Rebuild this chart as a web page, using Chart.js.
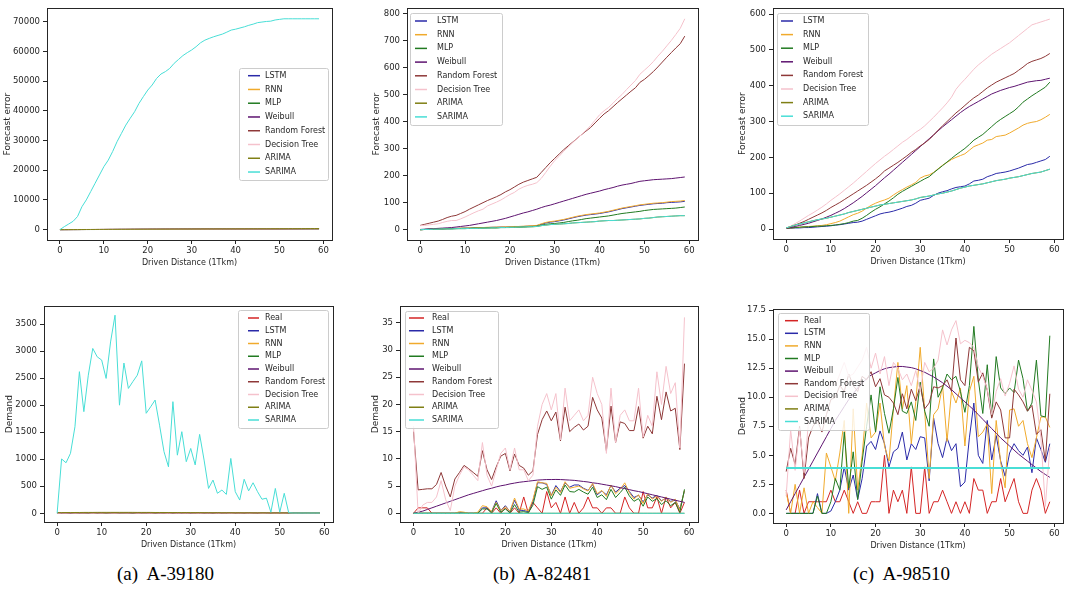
<!DOCTYPE html>
<html>
<head>
<meta charset="utf-8">
<script src="https://cdn.jsdelivr.net/npm/chart.js@4.4.0/dist/chart.umd.min.js"></script>
<style>
  body { margin: 0; background: #fff; width: 1074px; height: 598px; position: relative; overflow: hidden; }
  canvas { position: absolute; }
  .cap { position: absolute; top: 564px; font-family: "Liberation Serif", serif; font-size: 19px; line-height: 19px; color: #000; white-space: pre; }
</style>
</head>
<body>
<div class="cap" style="left:117px">(a)  A-39180</div>
<div class="cap" style="left:493px">(b)  A-82481</div>
<div class="cap" style="left:853px">(c)  A-98510</div>
<script>
// x values (driven distance, 1Tkm)
const distance = [0,1,2,3,4,5,6,7,8,9,10,11,12,13,14,15,16,17,18,19,20,21,22,23,24,25,26,27,28,29,
  30,31,32,33,34,35,36,37,38,39,40,41,42,43,44,45,46,47,48,49,50,51,52,53,54,55,56,57,58,59];
const xTicks = [0, 10, 20, 30, 40, 50, 60];

// ---------- (a) A-39180 forecast error ----------
const errA_LSTM = [0,3,7,12,15,21,26,30,37,42, 46,53,58,63,69,73,80,85,89,96, 102,106,112,119,123,129,135,140,146,151,
  157,163,167,174,179,184,190,196,201,207, 213,217,223,229,234,240,245,250,256,262, 266,272,278,283,289,294,299,305,311,316];
const errA_RNN = [0,4,9,13,19,24,28,35,40,44, 51,57,61,67,73,78,84,90,94,101, 107,111,118,124,129,135,141,146,152,158,
  163,169,175,180,186,192,197,203,209,214, 220,226,231,237,243,248,254,260,265,271, 277,282,288,294,299,305,311,316,322,328];
const errA_MLP = [0,3,6,10,14,17,22,26,29,34, 38,41,46,50,53,58,62,66,70,74, 78,82,86,90,94,98,103,106,111,115,
  118,123,127,130,135,139,143,147,151,155, 159,163,167,171,175,179,183,187,191,195, 199,203,207,211,215,219,223,227,231,235];
const errA_Weibull = [0,5,10,16,21,27,33,39,45,51, 57,63,69,76,82,88,94,100,106,112, 118,124,130,136,142,148,154,160,166,172,
  178,184,190,196,201,207,213,219,225,230, 236,242,247,253,259,264,270,275,281,286, 292,297,303,308,314,319,325,330,336,341];
const errA_RF = [0,4,9,13,17,23,26,31,36,40, 44,50,54,58,64,68,72,78,82,86, 92,96,100,106,110,114,120,124,128,134,
  138,142,148,152,156,162,166,170,176,180, 184,190,194,198,204,208,212,218,222,226, 232,236,240,246,250,254,260,264,268,274];
const errA_DT = [0,5,9,14,19,24,29,33,38,43, 48,53,57,62,67,72,77,81,86,91, 96,100,105,110,115,119,124,129,134,138,
  143,148,152,157,162,167,171,176,181,186, 190,195,200,204,209,214,218,223,228,233, 237,242,247,251,256,261,265,270,275,280];
const errA_ARIMA = [0,6,12,18,25,31,37,44,50,56, 63,69,75,82,88,94,101,107,113,119, 126,132,138,145,151,157,163,170,176,182,
  188,195,201,207,213,219,226,232,238,244, 250,256,263,269,275,281,287,293,299,305, 311,317,323,329,335,341,347,353,359,365];
const errA_SARIMA = [0,1000,1900,2800,4400,7700,10000,12800,15600,18400, 21200,23400,26300,29600,32400,35200,37500,39700,42500,44800,
  47000,48700,50900,52400,53200,54300,56000,57300,58600,59600, 60500,61600,62900,63800,64400,64950,65400,65850,66500,67200,
  67500,67900,68300,68800,69200,69700,69900,70100,70200,70600, 70800,71000,71000,71000,71000,71000,71000,71000,71000,71000];
const yTicksA1 = [0,10000,20000,30000,40000,50000,60000,70000];

// ---------- (b) A-82481 forecast error ----------
const errB_LSTM = [0,1,2,2,3,3,4,4,5,5, 6,6,7,7,8,8,9,9,10,10, 11,11,12,12,13,14,15,20,25,28,
  30,33,36,40,44,48,51,54,56,58, 60,63,66,70,74,78,81,84,87,90, 92,94,96,97,98,100,101,102,103,105];
const errB_RNN = [0,1,2,3,3,4,4,5,5,6, 6,7,7,8,8,9,9,10,10,11, 11,12,12,13,14,15,16,22,27,30,
  32,35,38,42,46,50,53,56,58,60, 62,65,68,72,76,80,83,86,89,92, 94,96,98,99,100,102,104,105,106,108];
const errB_MLP = [0,1,2,2,3,3,4,4,4,5, 5,5,6,6,6,7,7,7,8,8, 8,9,9,10,11,12,13,17,20,22,
  23,25,27,30,33,35,38,41,43,45, 47,49,51,54,57,60,62,64,66,68, 71,73,75,76,77,78,79,80,82,84];
const errB_Weibull = [1,2,3,4,5,6,7,8,10,12, 14,16,19,22,25,28,31,34,38,42, 47,52,57,62,66,71,76,82,87,91,
  96,101,106,111,116,121,126,131,135,139, 143,148,152,156,161,165,168,171,175,179, 181,183,185,186,187,188,189,191,193,195];
const errB_RF = [16,20,24,28,32,38,45,50,53,60, 67,76,84,92,100,108,115,122,130,140, 148,158,168,176,182,188,194,212,230,248,
  264,280,296,310,324,338,352,365,378,395, 412,428,440,455,470,484,498,512,525,545, 556,570,585,602,620,638,655,672,688,716];
const errB_DT = [15,16,18,20,22,27,31,34,34,40, 47,55,63,70,76,88,95,102,110,120, 130,138,150,158,164,168,174,190,212,235,
  256,272,290,306,322,338,352,368,385,405, 425,440,452,468,485,500,518,535,552,575, 590,605,622,642,660,680,700,722,745,780];
const errB_ARIMA = [0,1,1,2,2,3,3,3,4,4, 4,5,5,5,6,6,7,7,8,8, 9,9,10,10,11,11,12,15,17,19,
  20,21,22,23,25,26,27,28,29,30, 32,33,34,34,35,36,37,38,39,40, 42,43,45,47,48,49,50,51,52,52];
const errB_SARIMA = [0,1,1,2,2,3,3,3,4,4, 4,5,5,5,6,6,7,7,8,8, 9,9,10,10,11,11,12,15,17,19,
  20,21,22,23,25,26,27,28,29,30, 32,33,34,34,35,36,37,38,39,40, 42,43,45,47,48,49,50,51,52,52];
const yTicksB1 = [0,100,200,300,400,500,600,700,800];

// ---------- (c) A-98510 forecast error ----------
const errC_LSTM = [2,2,3,3,4,4,5,6,7,8, 9,11,12,14,16,18,19,22,27,32, 37,42,45,47,50,54,58,63,66,72,
  80,83,86,94,100,104,107,112,116,118, 120,126,134,136,139,146,150,155,157,159, 162,166,170,175,180,182,186,190,194,203];
const errC_RNN = [2,3,4,5,6,7,8,9,10,12, 15,18,22,28,34,40,44,50,58,66, 72,77,81,86,95,103,110,117,123,130,
  142,148,151,158,168,178,186,194,200,205, 210,220,230,235,240,248,250,258,260,262, 268,275,282,290,295,298,300,305,312,320];
const errC_MLP = [2,3,4,5,6,6,7,8,8,9, 10,11,13,15,18,22,24,30,38,47, 55,62,70,78,87,97,105,112,119,126,
  133,140,146,157,167,177,187,197,207,216, 225,236,248,256,264,275,286,297,306,314, 322,330,341,354,363,372,380,388,396,410];
const errC_Weibull = [2,4,7,10,13,16,20,24,28,33, 38,44,50,57,65,73,82,91,101,111, 121,132,143,153,164,175,186,197,208,219,
  230,241,252,263,274,285,295,305,315,325, 334,342,349,356,363,370,377,382,387,391, 395,398,402,406,410,412,414,415,418,421];
const errC_RF = [2,6,11,16,21,27,33,39,45,52, 60,67,74,82,90,98,106,114,122,131, 140,150,162,170,178,186,195,204,214,222,
  232,240,250,262,276,288,300,312,324,334, 345,356,366,374,384,394,402,410,416,422, 428,434,443,452,462,468,472,476,482,490];
const errC_DT = [3,8,15,22,30,38,45,53,61,70, 80,89,98,108,118,128,139,150,161,172, 183,193,203,212,222,232,242,250,260,270,
  278,288,300,312,325,338,352,368,390,405, 418,432,446,458,468,478,488,496,504,512, 520,530,540,550,560,570,574,578,582,586];
const errC_ARIMA = [3,7,11,14,17,20,23,26,28,30, 33,36,39,42,46,49,52,55,58,61, 64,67,69,71,73,75,77,79,81,84,
  88,90,92,95,98,100,103,106,110,114, 117,120,122,124,126,129,132,135,137,139, 142,144,146,149,152,155,157,159,163,167];
const errC_SARIMA = [3,7,11,14,17,20,23,26,28,30, 33,36,39,42,46,49,52,55,58,61, 64,67,69,71,73,75,77,79,81,84,
  88,90,92,95,98,100,103,106,110,114, 117,120,122,124,126,129,132,135,137,139, 142,144,146,149,152,155,157,159,163,167];
const yTicksC1 = [0,100,200,300,400,500,600];

// ---------- (a) A-39180 demand ----------
const demA_Real = [0,5,3,8,2,6,4,9,1,7, 3,10,5,2,8,6,4,11,3,7, 5,2,9,4,6,1,8,3,5,2,
  7,4,1,6,3,8,2,5,4,1, 6,3,7,2,4,5,1,3,6,2, 4,1,5,3,2,6,1,4,3,2];
const demA_LSTM = [0,2,3,4,4,5,5,5,6,6, 5,6,5,5,6,5,5,6,5,5, 5,4,5,5,4,5,4,5,4,4,
  4,4,4,4,3,4,3,4,3,3, 3,3,3,3,3,3,2,3,3,2, 3,2,2,3,2,2,2,2,2,2];
const demA_RNN = [0,3,4,5,5,6,6,7,6,7, 7,6,7,7,6,7,6,7,6,6, 6,6,5,6,5,5,5,5,5,4,
  5,4,4,4,4,4,4,3,4,3, 3,3,3,3,3,3,3,2,3,2, 2,2,2,2,2,2,2,2,2,2];
const demA_MLP = [0,1,2,3,4,4,5,5,5,5, 5,5,6,5,5,5,5,5,5,5, 4,5,4,4,4,4,4,4,4,3,
  4,3,3,3,3,3,3,3,3,3, 2,3,2,2,2,2,2,2,2,2, 2,2,2,2,2,1,2,1,2,1];
const demA_Weibull = [0,2,4,6,8,9,10,11,12,12, 13,13,13,13,13,12,12,12,11,11, 10,10,9,9,8,8,7,7,6,6,
  5,5,5,4,4,4,3,3,3,3, 2,2,2,2,2,1,1,1,1,1, 1,1,1,1,0,0,0,0,0,0];
const demA_RF = [3,4,5,6,5,6,6,7,5,6, 5,8,6,4,7,6,5,8,4,6, 5,4,7,5,5,3,6,4,5,3,
  6,4,3,5,3,6,3,4,4,2, 5,3,5,3,4,4,2,3,5,2, 4,2,4,3,2,5,2,3,3,2];
const demA_DT = [0,4,3,7,3,6,5,8,2,7, 4,9,5,3,7,6,5,10,3,6, 5,3,8,4,6,2,7,3,5,3,
  6,4,2,6,3,7,2,5,4,2, 5,3,6,2,4,5,2,3,5,2, 4,2,5,3,2,5,2,4,3,2];
const demA_ARIMA = [12,13,14,14,15,15,16,16,16,17, 17,17,17,17,17,17,17,17,16,16, 16,16,15,15,15,14,14,14,13,13,
  13,12,12,12,11,11,11,10,10,10, 9,9,9,9,8,8,8,8,7,7, 7,7,7,6,6,6,6,6,6,5];
const demA_SARIMA = [0,1005,935,1110,1600,2620,1880,2555,3050,2895, 2835,2495,3170,3665,2000,2780,2310,2435,2555,2820,
  1850,1970,2095,1630,1140,860,2065,1075,1510,955, 1200,895,1460,985,460,615,370,430,350,1015,
  400,245,630,415,565,400,260,280,20,460, 20,370,10,5,5,5,5,5,5,5];
const yTicksA2 = [0,500,1000,1500,2000,2500,3000,3500];

// ---------- (b) A-82481 demand ----------
const demB_Real = [0,1,1,1,0,0,0,0,0,0, 0,0,0,0,0,0,1,0,1,0, 1,0,1,0,3,0,2,1,0,4,
  1,2,0,3,0,2,0,1,3,1, 1,0,1,1,0,0,3,1,0,0, 4,1,1,3,0,3,1,2,0,2];
const demB_LSTM = [0,0,0,0,0,0,0,0,0,0, 0.1,0.1,0,0,0,1,1,0.3,2.3,0.5, 1.4,0.3,2.4,0.6,0.5,0.3,2.2,5.6,5.6,5.3,
  3.3,5.1,4,5.6,4.8,5.2,5.2,4.6,4.2,5.3, 3.4,4.1,3.4,5.1,3.9,4.6,5.1,4,2.9,3.3, 2.1,3.4,2.8,3.3,2.3,2.8,2.2,2.4,0.8,4.1];
const demB_RNN = [0,0,0,0,0,0,0,0,0,0, 0.3,0.2,0,0,0.2,1.4,1.2,0.3,2,0.5, 1.2,0.4,2.8,0.8,0.8,0.4,2.5,5.8,5.6,5.5,
  3.2,4.8,3.8,5.8,4.6,4.8,5,4.5,4.1,5.5, 3.6,4.2,3.1,5.2,3.6,4.4,5.6,3.8,2.6,3.4, 1.8,3.6,2.6,3.2,2.2,3,2,2.6,0.6,4.2];
const demB_MLP = [0,0,0,0,0,0,0,0,0,0, 0,0,0,0,0,0.8,0.8,0.1,1.8,0.2, 0.8,0.1,1.6,0.2,0.3,0.1,1.5,4.9,4.4,4.8,
  2.6,4.3,3.3,5.2,4,3.9,4.4,3.9,3.5,4.8, 2.9,3.4,2.5,4.4,2.9,3.8,4.8,3.2,2.2,2.7, 1.3,3,2.2,2.7,1.6,2.3,1.4,2,0.2,4.4];
const demB_Weibull = [0,0.2,0.4,0.7,1,1.3,1.6,1.9,2.2,2.5, 2.8,3.1,3.4,3.65,3.9,4.15,4.4,4.6,4.85,5.05,
  5.2,5.4,5.55,5.7,5.8,5.9,6,6.1,6.15,6.2, 6.2,6.22,6.2,6.15,6.1,6.05,5.95,5.85,5.75,5.6,
  5.5,5.35,5.2,5.05,4.9,4.7,4.55,4.35,4.15,4, 3.8,3.6,3.4,3.2,3,2.8,2.6,2.4,2.2,2];
const demB_RF = [15,4.3,4.4,4.5,4.5,5.3,7.5,5,3,6.3, 7.5,8.8,8.2,7.5,6.8,11.5,8,6.2,8.5,10.5,
  11,7.8,10.9,8.8,8.3,7,7.8,14.5,17.2,18.8, 17,18.6,13.3,19.5,15,15.8,16.4,15.3,16,21.3,
  19,17.5,11.5,19.7,13,16.8,16.5,15.2,15.2,19.6, 13.8,16,14.6,21.5,17.2,22.3,18.8,19.3,11.7,27.5];
const demB_DT = [16,0,1.5,2,2,3,6,2.5,0.5,5, 7,8.5,8,7,6,13,7,5,8,11, 12,8,12,8,8,6,7,16,20,22,
  19,22,13.5,23,17,18,19,17,18,25, 22,20,11,23,13,18,19,17,17,23, 14,18,16,26,20,27,22,24,12,36];
const demB_ARIMA = [0,0,0,0,0,0,0,0,0,0, 0,0,0,0,0,0,0,0,0,0, 0,0,0,0,0,0,0,0,0,0,
  0,0,0,0,0,0,0,0,0,0, 0,0,0,0,0,0,0,0,0,0, 0,0,0,0,0,0,0,0,0,0];
const demB_SARIMA = [0,0,0,0,0,0,0,0,0,0, 0,0,0,0,0,0,0,0,0,0, 0,0,0,0,0,0,0,0,0,0,
  0,0,0,0,0,0,0,0,0,0, 0,0,0,0,0,0,0,0,0,0, 0,0,0,0,0,0,0,0,0,0];
const yTicksB2 = [0,5,10,15,20,25,30,35];

// ---------- (c) A-98510 demand ----------
const demC_Real = [2,0,0,2,0,1,1,1,1,1, 2,1,1,2,1,0,1,0,0,1, 1,1,5,0,2,1,2,0,4,0,
  0,4,0,1,1,2,1,0,1,0, 1,0,3,2,2,0,1,1,3,1, 2,3,1,0,0,2,3,2,0,1];
const demC_LSTM = [0,0,0,0,0,0,0,1.7,0,0, 0.2,1,2,4,2,3.3,1.2,3,5.8,6.2, 5.5,7.1,6,4,5.3,5.6,7,4.6,6,5.5,
  6.6,6.5,2.8,8.2,6,4.8,6.5,5.4,6,2.3, 2.7,6.5,9.5,5,4.3,8,4.6,6.7,4.5,3.2, 5.2,6,5.4,5,5.7,3.5,6.5,5.5,4.4,6];
const demC_RNN = [1.8,0,2.5,0,2.2,0,1,0.5,0,5.2, 4,2.8,5.2,8,0,9,2,5,9.5,6.5, 7,9.5,5.8,4.5,9,13,9,11,6,9.6,
  14.3,8.8,3,8.5,9,11,6.2,10.5,9.5,10.8, 5.8,10.5,11.8,6.6,7,7.7,1.7,8,4.4,2.2, 8.9,9,7.5,8,6,4.8,6.5,8.3,8.3,7.4];
const demC_MLP = [0,0,0,0,0,0,0,1.5,0,0, 1,3,2,7,2.2,5.3,1.2,4.5,7.5,10.2, 7,10.9,8.6,6.9,9,11.7,8.8,8.6,9.6,8,
  11.3,8.8,7.5,13.3,10,10.8,12,11.5,11.8,10.5, 8.7,11,16.1,11.5,8.6,12.8,8.3,13.5,10.8,10.3, 10.8,10.4,13.2,11.6,8.8,9.5,13.2,8.4,8.3,15.3];
const demC_Weibull = [0.3,1.0,1.7,2.4,3.1,3.8,4.5,5.2,5.9,6.6, 7.3,8.0,8.6,9.2,9.8,10.3,10.8,11.2,11.6,11.9,
  12.1,12.3,12.45,12.55,12.6,12.65,12.65,12.6,12.55,12.45, 12.3,12.15,11.95,11.75,11.5,11.25,10.95,10.65,10.3,9.95,
  9.6,9.25,8.9,8.5,8.1,7.7,7.3,6.9,6.5,6.15, 5.8,5.45,5.1,4.8,4.5,4.2,3.9,3.6,3.35,3.1];
const demC_RF = [3.6,5.6,4.2,7.5,3,6.5,7.5,8,7,8.5, 9.8,10,11,10.5,12,11,10.5,11.8,11.5,12.2,
  10.9,11.6,10.2,10,9.5,8.5,10.3,9,10.7,9.7, 11,9,9.5,10.9,10.8,11,11.5,10.5,15.1,11.5,
  11,14.3,14,11.3,12.1,10.6,8.2,9.6,8.9,6.5, 6.5,10.7,10.2,9.6,8.8,9.3,6.8,7.2,4.5,10.3];
const demC_DT = [1.5,7.2,3.7,7.3,3.5,7.9,8.5,9.5,9,10, 11.5,11,12,13,11.8,12,12.6,13.2,14.3,12.5,
  13.8,12,13.5,11,13,12.5,11.5,12,11,12.3, 10.5,13,12.2,12.5,13.2,15.8,14.5,15.8,16.6,14.6,
  14.9,14.7,14.3,12.6,11.8,10.7,8.5,10.5,11.6,10.1, 11.2,12.7,10.7,10,11.5,10.6,9.6,6.5,0.6,5.7];
const demC_ARIMA = [3.9,3.9,3.9,3.9,3.9,3.9,3.9,3.9,3.9,3.9, 3.9,3.9,3.9,3.9,3.9,3.9,3.9,3.9,3.9,3.9,
  3.9,3.9,3.9,3.9,3.9,3.9,3.9,3.9,3.9,3.9, 3.9,3.9,3.9,3.9,3.9,3.9,3.9,3.9,3.9,3.9,
  3.9,3.9,3.9,3.9,3.9,3.9,3.9,3.9,3.9,3.9, 3.9,3.9,3.9,3.9,3.9,3.9,3.9,3.9,3.9,3.9];
const demC_SARIMA = [3.9,3.9,3.9,3.9,3.9,3.9,3.9,3.9,3.9,3.9, 3.9,3.9,3.9,3.9,3.9,3.9,3.9,3.9,3.9,3.9,
  3.9,3.9,3.9,3.9,3.9,3.9,3.9,3.9,3.9,3.9, 3.9,3.9,3.9,3.9,3.9,3.9,3.9,3.9,3.9,3.9,
  3.9,3.9,3.9,3.9,3.9,3.9,3.9,3.9,3.9,3.9, 3.9,3.9,3.9,3.9,3.9,3.9,3.9,3.9,3.9,3.9];
const yTicksC2 = [0,2.5,5,7.5,10,12.5,15,17.5];

const seriesColors = {
  'Real': '#d42424', 'LSTM': '#2a2aa8', 'RNN': '#f0aa2c', 'MLP': '#217a21', 'Weibull': '#5e1470',
  'Random Forest': '#8e3838', 'Decision Tree': '#f5c2cc', 'ARIMA': '#7f7f14', 'SARIMA': '#48ded6'
};
const FONT = 'DejaVu Sans';
const INK = '#262626';

// draws the box around the axes and a matplotlib style legend inside it
const mplDecor = {
  id: 'mplDecor',
  afterDatasetsDraw(chart) {
    const o = chart.options.plugins.mplDecor;
    const ctx = chart.ctx, a = chart.chartArea;
    ctx.save();
    ctx.strokeStyle = INK;
    ctx.lineWidth = 1;
    ctx.strokeRect(Math.round(a.left) + 0.5, Math.round(a.top) + 0.5,
      Math.round(a.right - a.left), Math.round(a.bottom - a.top));

    const L = o.legend;
    const bx = L.x - o.ox + 0.5, by = L.y - o.oy + 0.5;
    ctx.fillStyle = 'rgba(255,255,255,0.8)';
    ctx.strokeStyle = '#cccccc';
    ctx.beginPath();
    if (ctx.roundRect) ctx.roundRect(bx, by, L.w, L.h, 2); else ctx.rect(bx, by, L.w, L.h);
    ctx.fill();
    ctx.stroke();

    ctx.font = '8px "' + FONT + '"';
    ctx.textBaseline = 'middle';
    chart.data.datasets.forEach((ds, i) => {
      const y = L.first + i * L.step - o.oy;
      ctx.strokeStyle = ds.borderColor;
      ctx.lineWidth = 1.5;
      ctx.beginPath();
      ctx.moveTo(L.h0 - o.ox, y);
      ctx.lineTo(L.h1 - o.ox, y);
      ctx.stroke();
      ctx.fillStyle = INK;
      ctx.fillText(ds.label, L.tx - o.ox, y);
    });
    ctx.restore();
  }
};

const errNames = ['LSTM', 'RNN', 'MLP', 'Weibull', 'Random Forest', 'Decision Tree', 'ARIMA', 'SARIMA'];
const demNames = ['Real'].concat(errNames);

const panels = [
  { plot: [47, 8, 332, 240], d: 39, ymin: -3500, ymax: 74600, yticks: yTicksA1, ytitle: 'Forecast error', dec: 0,
    legend: { x: 239, y: 68, w: 89, h: 112, first: 75.7, step: 13.76, h0: 248, h1: 260, tx: 265 },
    names: errNames, data: [errA_LSTM, errA_RNN, errA_MLP, errA_Weibull, errA_RF, errA_DT, errA_ARIMA, errA_SARIMA] },
  { plot: [407, 8, 698, 240], d: 30, ymin: -38, ymax: 819.6, yticks: yTicksB1, ytitle: 'Forecast error', dec: 0,
    legend: { x: 410, y: 13, w: 92, h: 112, first: 21, step: 13.7, h0: 415, h1: 427, tx: 437 },
    names: errNames, data: [errB_LSTM, errB_RNN, errB_MLP, errB_Weibull, errB_RF, errB_DT, errB_ARIMA, errB_SARIMA] },
  { plot: [773, 8, 1063, 239], d: 30, ymin: -27.9, ymax: 616.7, yticks: yTicksC1, ytitle: 'Forecast error', dec: 0,
    legend: { x: 777, y: 13, w: 91, h: 112, first: 21, step: 13.6, h0: 781, h1: 793, tx: 803 },
    names: errNames, data: [errC_LSTM, errC_RNN, errC_MLP, errC_Weibull, errC_RF, errC_DT, errC_ARIMA, errC_SARIMA] },
  { plot: [44, 306, 333, 522], d: 34, ymin: -161, ymax: 3833, yticks: yTicksA2, ytitle: 'Demand', dec: 0,
    legend: { x: 238, y: 310, w: 90, h: 118, first: 318, step: 12.75, h0: 248, h1: 259, tx: 265 },
    names: demNames, data: [demA_Real, demA_LSTM, demA_RNN, demA_MLP, demA_Weibull, demA_RF, demA_DT, demA_ARIMA, demA_SARIMA] },
  { plot: [400, 306, 698, 522], d: 24, ymin: -1.6, ymax: 38.07, yticks: yTicksB2, ytitle: 'Demand', dec: 0,
    legend: { x: 405, y: 311, w: 93, h: 117, first: 318, step: 12.75, h0: 409, h1: 424, tx: 432 },
    names: demNames, data: [demB_Real, demB_LSTM, demB_RNN, demB_MLP, demB_Weibull, demB_RF, demB_DT, demB_ARIMA, demB_SARIMA] },
  { plot: [773, 309, 1063, 523], d: 30, ymin: -0.83, ymax: 17.59, yticks: yTicksC2, ytitle: 'Demand', dec: 1,
    legend: { x: 778, y: 313, w: 91, h: 117, first: 320.7, step: 12.6, h0: 785, h1: 798, tx: 804 },
    names: demNames, data: [demC_Real, demC_LSTM, demC_RNN, demC_MLP, demC_Weibull, demC_RF, demC_DT, demC_ARIMA, demC_SARIMA] }
];

const X_BELOW = 28, PAD_TOP = 8, PAD_RIGHT = 8;

panels.forEach(p => {
  const [l, t, r, b] = p.plot;
  const yw = p.d + 6;
  const left = l - yw, top = t - PAD_TOP;
  const width = Math.round(r - l + yw + PAD_RIGHT), height = Math.round(b - t + PAD_TOP + X_BELOW);
  const canvas = document.createElement('canvas');
  canvas.width = width;
  canvas.height = height;
  canvas.style.left = left + 'px';
  canvas.style.top = top + 'px';
  document.body.appendChild(canvas);

  const n = p.names.length;
  const datasets = p.names.map((name, i) => ({
    label: name,
    data: distance.map((x, k) => ({ x: x, y: p.data[i][k] })),
    borderColor: seriesColors[name],
    backgroundColor: seriesColors[name],
    borderWidth: name === 'SARIMA' && p.dec === 1 ? 2 : 1,
    pointRadius: 0,
    fill: false,
    tension: 0,
    order: n - i
  }));

  const tickFont = { family: FONT, size: 8.5 };
  new Chart(canvas, {
    type: 'line',
    data: { datasets },
    options: {
      responsive: false,
      animation: false,
      events: [],
      layout: { padding: { top: PAD_TOP, right: PAD_RIGHT, left: 0, bottom: 0 } },
      plugins: {
        legend: { display: false },
        tooltip: { enabled: false },
        mplDecor: { legend: p.legend, ox: left, oy: top }
      },
      scales: {
        x: {
          type: 'linear', min: -2.95, max: 61.95,
          afterBuildTicks: s => { s.ticks = xTicks.map(v => ({ value: v })); },
          afterFit: s => { s.height = X_BELOW; },
          grid: { drawOnChartArea: false, drawTicks: true, tickLength: 4, tickColor: INK },
          border: { display: false },
          ticks: { font: tickFont, color: INK, padding: 2, maxRotation: 0, autoSkip: false },
          title: { display: true, text: 'Driven Distance (1Tkm)', font: { family: FONT, size: 8 }, color: INK, padding: 0 }
        },
        y: {
          type: 'linear', min: p.ymin, max: p.ymax,
          afterBuildTicks: s => { s.ticks = p.yticks.map(v => ({ value: v })); },
          afterFit: s => { s.width = yw; },
          grid: { drawOnChartArea: false, drawTicks: true, tickLength: 4, tickColor: INK },
          border: { display: false },
          ticks: { font: tickFont, color: INK, padding: 3, autoSkip: false,
                   callback: v => p.dec ? Number(v).toFixed(p.dec) : String(v) },
          title: { display: true, text: p.ytitle, font: { family: FONT, size: 9 }, color: INK, padding: 0 }
        }
      }
    },
    plugins: [mplDecor]
  });
});
</script>
</body>
</html>
